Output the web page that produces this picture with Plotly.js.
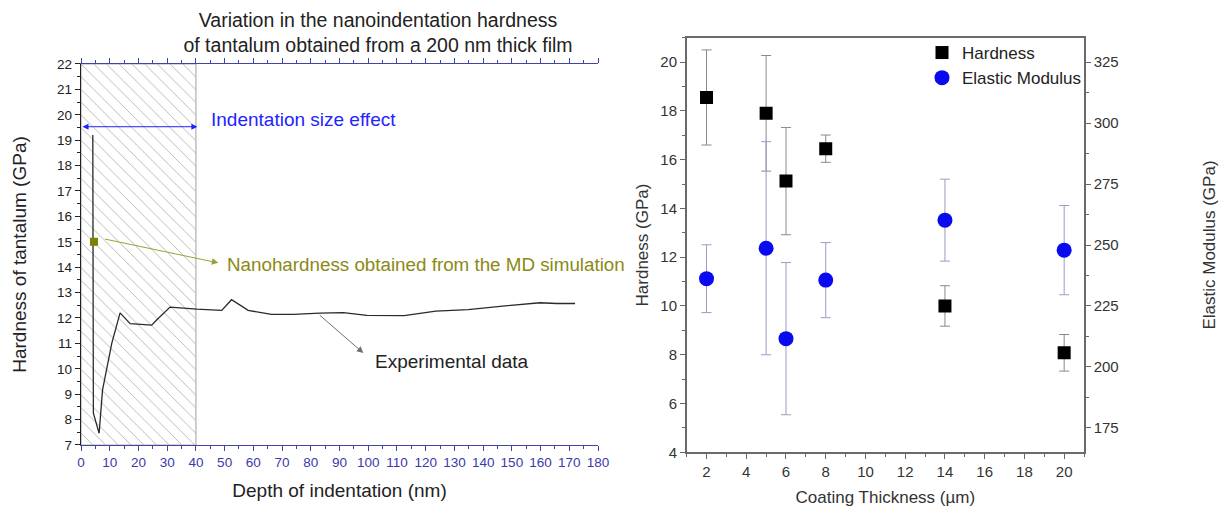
<!DOCTYPE html>
<html>
<head>
<meta charset="utf-8">
<script src="https://cdn.plot.ly/plotly-3.0.1.min.js"></script>
<style>html,body{margin:0;padding:0;background:#fff;}#chart{width:1222px;height:507px;}</style>
</head>
<body>
<div id="chart"></div>
<script>
// ---- Panel (a): nanoindentation hardness vs depth ----
const depthNm = [4.1, 4.3, 6.3, 7.5, 10.7, 13.6, 17.1, 24.6, 26.4, 31.0, 40.3, 49.0, 52.4, 58.2, 66.3, 73.9, 83.2, 91.3, 99.5, 112.5, 123.5, 134.8, 145.9, 159.8, 165.6, 172.0];
const hardnessTa = [19.2, 8.25, 7.46, 9.17, 11.0, 12.2, 11.78, 11.72, 11.93, 12.43, 12.35, 12.3, 12.72, 12.3, 12.14, 12.14, 12.19, 12.21, 12.1, 12.09, 12.27, 12.33, 12.46, 12.6, 12.57, 12.57];
const mdDepth = [4.5];
const mdHardness = [15.0];
const iseDepth = [0, 40];          // indentation size effect region
const hardnessRange = [7, 22];

// ---- Panel (b): hardness & elastic modulus vs coating thickness ----
const thicknessUm = [2, 5, 6, 8, 14, 20];
const hardnessGPa = [18.55, 17.9, 15.12, 16.45, 10.0, 8.08];
const hardnessErr = [1.95, 2.37, 2.2, 0.56, 0.83, 0.75];
const modulusGPa = [236.2, 248.7, 211.6, 235.6, 260.2, 247.9];
const modulusErr = [13.9, 43.7, 31.2, 15.4, 16.8, 18.3];

const FONT = 'Arial, "Liberation Sans", sans-serif';
const BLUE_AX = '#4343a6';
const OLIVE = '#8a8a14';

const traces = [
  {
    x: [iseDepth[0], iseDepth[1], iseDepth[1], iseDepth[0], iseDepth[0]],
    y: [hardnessRange[0], hardnessRange[0], hardnessRange[1], hardnessRange[1], hardnessRange[0]],
    xaxis: 'x', yaxis: 'y', mode: 'lines', fill: 'toself',
    fillcolor: 'rgba(255,255,255,0)',
    fillpattern: {shape: '\\', fgcolor: '#b4b4b4', bgcolor: '#ffffff', size: 9, solidity: 0.1},
    line: {color: '#b0b0b0', width: 1.2},
    showlegend: false, hoverinfo: 'skip'
  },
  {
    x: depthNm, y: hardnessTa, xaxis: 'x', yaxis: 'y', mode: 'lines',
    line: {color: '#2a2a2a', width: 1.3}, showlegend: false
  },
  {
    x: mdDepth, y: mdHardness, xaxis: 'x', yaxis: 'y', mode: 'markers',
    marker: {symbol: 'square', size: 8, color: '#7f7f00'}, showlegend: false
  },
  {
    name: 'Hardness', x: thicknessUm, y: hardnessGPa, xaxis: 'x2', yaxis: 'y2', mode: 'markers',
    marker: {symbol: 'square', size: 13, color: '#000000'},
    error_y: {type: 'data', array: hardnessErr, visible: true, color: '#8a8a8a', thickness: 1, width: 5}
  },
  {
    name: 'Elastic Modulus', x: thicknessUm, y: modulusGPa, xaxis: 'x2', yaxis: 'y3', mode: 'markers',
    marker: {symbol: 'circle', size: 15, color: '#0a0af0'},
    error_y: {type: 'data', array: modulusErr, visible: true, color: '#9c9cc6', thickness: 1, width: 5}
  }
];

const layout = {
  width: 1222, height: 507,
  margin: {l: 0, r: 0, t: 0, b: 0},
  paper_bgcolor: '#ffffff', plot_bgcolor: 'rgba(0,0,0,0)',
  font: {family: FONT, color: '#222'},
  title: {
    text: 'Variation in the nanoindentation hardness<br>of tantalum obtained from a 200 nm thick film',
    font: {family: FONT, size: 19.5, color: '#222'},
    x: 378 / 1222, xanchor: 'center', xref: 'paper',
    y: 1 - 27 / 507, yanchor: 'top', yref: 'container'
  },
  showlegend: true,
  legend: {
    x: 0.7545, y: 0.931, xanchor: 'left', yanchor: 'top',
    bgcolor: 'rgba(255,255,255,0)', font: {family: FONT, size: 17, color: '#222'},
    tracegroupgap: 0
  },
  xaxis: {
    domain: [0.0663, 0.4894], anchor: 'y', range: [0, 180],
    dtick: 10, tick0: 0, ticks: 'outside', ticklen: 5, tickwidth: 1, tickcolor: BLUE_AX,
    minor: {dtick: 5, ticks: 'outside', ticklen: 3, tickcolor: BLUE_AX},
    showline: true, linecolor: BLUE_AX, linewidth: 1.3, mirror: 'ticks',
    showgrid: false, zeroline: false,
    tickfont: {family: FONT, size: 13.5, color: '#3a3aaa'},
    title: {text: 'Depth of indentation (nm)', font: {family: FONT, size: 19, color: '#222'}, standoff: 14}
  },
  yaxis: {
    domain: [0.1223, 0.8738], anchor: 'x', range: [7, 22],
    dtick: 1, tick0: 7, ticks: 'outside', ticklen: 5, tickwidth: 1, tickcolor: '#222',
    minor: {dtick: 0.5, ticks: 'outside', ticklen: 3, tickcolor: '#222'},
    showline: true, linecolor: '#222', linewidth: 1.3, mirror: false,
    showgrid: false, zeroline: false,
    tickfont: {family: FONT, size: 13.5, color: '#222'},
    title: {text: 'Hardness of tantalum (GPa)', font: {family: FONT, size: 19, color: '#222'}, standoff: 25}
  },
  xaxis2: {
    domain: [0.5619, 0.8871], anchor: 'y2', range: [1, 21],
    dtick: 2, tick0: 0, ticks: 'outside', ticklen: 5, tickwidth: 1, tickcolor: '#666',
    minor: {dtick: 1, ticks: 'outside', ticklen: 3, tickcolor: '#666'},
    showline: true, linecolor: '#6a6a6a', linewidth: 1.6, mirror: true,
    showgrid: false, zeroline: false,
    tickfont: {family: FONT, size: 15, color: '#333'},
    title: {text: 'Coating Thickness (µm)', font: {family: FONT, size: 17, color: '#333'}, standoff: 16}
  },
  yaxis2: {
    domain: [0.1079, 0.9256], anchor: 'x2', range: [4, 21],
    dtick: 2, tick0: 0, ticks: 'outside', ticklen: 5, tickwidth: 1, tickcolor: '#666',
    minor: {dtick: 1, ticks: 'outside', ticklen: 3, tickcolor: '#666'},
    showline: true, linecolor: '#6a6a6a', linewidth: 1.6, mirror: false,
    showgrid: false, zeroline: false,
    tickfont: {family: FONT, size: 15, color: '#333'},
    title: {text: 'Hardness (GPa)', font: {family: FONT, size: 17, color: '#333'}, standoff: 7}
  },
  yaxis3: {
    anchor: 'x2', overlaying: 'y2', side: 'right', range: [165, 335],
    dtick: 25, tick0: 0, ticks: 'outside', ticklen: 5, tickwidth: 1, tickcolor: '#666',
    minor: {dtick: 12.5, ticks: 'outside', ticklen: 3, tickcolor: '#666'},
    showline: true, linecolor: '#6a6a6a', linewidth: 1.6,
    showgrid: false, zeroline: false,
    tickfont: {family: FONT, size: 15, color: '#333'},
    title: {text: 'Elastic Modulus (GPa)', font: {family: FONT, size: 17, color: '#333'}, standoff: 85}
  },
  annotations: [
    // double arrow for indentation size effect
    {xref: 'x', yref: 'y', x: 40.5, y: 19.53, axref: 'x', ayref: 'y', ax: 0, ay: 19.53,
     text: '', showarrow: true, arrowside: 'end+start', arrowhead: 2, arrowsize: 1.2, arrowwidth: 1,
     arrowcolor: '#1f1fff', standoff: 0, startstandoff: 0},
    {xref: 'x', yref: 'y', x: 44.4, y: 19.8, text: 'Indentation size effect', showarrow: false,
     xanchor: 'left', yanchor: 'middle', font: {family: FONT, size: 19, color: '#2323ff'}},
    // MD arrow
    {xref: 'x', yref: 'y', x: 47.8, y: 14.17, axref: 'x', ayref: 'y', ax: 7.8, ay: 15.12,
     text: '', showarrow: true, arrowhead: 2, arrowsize: 1.3, arrowwidth: 1,
     arrowcolor: '#9e9e3a', standoff: 0},
    {xref: 'x', yref: 'y', x: 50.3, y: 14.12, text: 'Nanohardness obtained from the MD simulation', showarrow: false,
     xanchor: 'left', yanchor: 'middle', font: {family: FONT, size: 18.8, color: OLIVE}},
    // Experimental arrow
    {xref: 'x', yref: 'y', x: 98.3, y: 10.62, axref: 'x', ayref: 'y', ax: 82.6, ay: 12.16,
     text: '', showarrow: true, arrowhead: 2, arrowsize: 1.3, arrowwidth: 1,
     arrowcolor: '#707070', standoff: 0},
    {xref: 'x', yref: 'y', x: 101.6, y: 10.29, text: 'Experimental data', showarrow: false,
     xanchor: 'left', yanchor: 'middle', font: {family: FONT, size: 19, color: '#222'}}
  ]
};

Plotly.newPlot('chart', traces, layout, {displayModeBar: false, staticPlot: true});
</script>
</body>
</html>
